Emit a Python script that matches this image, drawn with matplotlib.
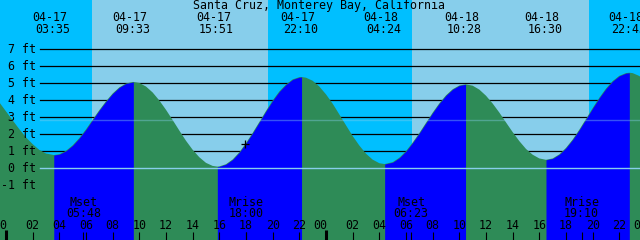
import numpy as np
import matplotlib.pyplot as plt

# Tide chart: Santa Cruz, Monterey Bay, 04-17 .. 04-18

title = "Santa Cruz, Monterey Bay, California"

# tide height (hours since 04-17 00:00, feet)
hours = [-0.5, 0, 0.5, 1, 1.5, 2, 2.5, 3, 3.583,
         4, 4.5, 5, 5.5, 6, 6.5, 7, 7.5, 8, 8.5, 9, 9.55,
         10, 10.5, 11, 11.5, 12, 12.5, 13, 13.5, 14, 14.5, 15, 15.5, 15.85,
         16, 16.5, 17, 17.5, 18, 18.5, 19, 19.5, 20, 20.5, 21, 21.5, 22, 22.167,
         22.5, 23, 23.5, 24, 24.5, 25, 25.5, 26, 26.5, 27, 27.5, 28, 28.4,
         29, 29.5, 30, 30.5, 31, 31.5, 32, 32.5, 33, 33.5, 34, 34.467,
         35, 35.5, 36, 36.5, 37, 37.5, 38, 38.5, 39, 39.5, 40, 40.5,
         41, 41.5, 42, 42.5, 43, 43.5, 44, 44.5, 45, 45.5, 46, 46.5, 46.75,
         47, 47.5, 48]
heights = [3.88, 3.35, 2.82, 2.30, 1.82, 1.42, 1.08, 0.87, 0.78,
           0.83, 1.03, 1.35, 1.78, 2.29, 2.86, 3.42, 3.94, 4.40, 4.76, 4.99, 5.08,
           5.02, 4.81, 4.46, 3.99, 3.44, 2.84, 2.22, 1.62, 1.09, 0.65, 0.32, 0.14, 0.10,
           0.11, 0.24, 0.52, 0.94, 1.48, 2.08, 2.72, 3.37, 3.99, 4.52, 4.93, 5.23, 5.36, 5.37,
           5.33, 5.15, 4.81, 4.35, 3.80, 3.17, 2.53, 1.90, 1.34, 0.86, 0.51, 0.30, 0.25,
           0.36, 0.62, 1.01, 1.51, 2.07, 2.67, 3.27, 3.82, 4.29, 4.65, 4.87, 4.94,
           4.86, 4.63, 4.27, 3.81, 3.28, 2.70, 2.13, 1.60, 1.14, 0.80, 0.58, 0.50,
           0.58, 0.82, 1.20, 1.69, 2.27, 2.90, 3.54, 4.15, 4.69, 5.13, 5.44, 5.60, 5.62,
           5.60, 5.43, 5.10]

# tide extremes (first one is a low, then they alternate)
tide_dates = ['04-17', '04-17', '04-17', '04-17', '04-18', '04-18', '04-18', '04-18']
tide_clock = ['03:35', '09:33', '15:51', '22:10', '04:24', '10:28', '16:30', '22:45']
tide_day = [0, 0, 0, 0, 1, 1, 1, 1]

# sun and moon
sunrise = ['06:27', '06:27']
sunset = ['19:39', '19:44']
moon_event = ['Mset', 'Mrise', 'Mset', 'Mrise']
moon_clock = ['05:48', '18:00', '06:23', '19:10']
moon_day = [0, 0, 1, 1]

now_hour, now_height = 17.93, 1.43
msl = 2.82
levels = [-1, 0, 1, 2, 3, 4, 5, 6, 7]

# pixel layout of the original picture
X0, PX_H = 6.0, 13.333     # x pixel of 04-17 00:00, pixels per hour
Y0, PX_FT = 168.3, 17.0    # y pixel of 0 ft, pixels per foot
W, H = 640, 240


def to_hours(clock, day):
    h, m = clock.split(':')
    return day * 24 + int(h) + int(m) / 60


def xh(px):
    return (px - X0) / PX_H


def yft(py):
    return (Y0 - py) / PX_FT


t = np.array(hours)
h = np.array(heights)
tide_t = [to_hours(c, d) for c, d in zip(tide_clock, tide_day)]

night = '#00BFFF'
day = '#87CEEB'
flood = '#0000FF'
ebb = '#2E8B57'
font = dict(family='DejaVu Sans Mono', fontsize=8.4, color='black')

fig = plt.figure(figsize=(W / 100, H / 100), dpi=100)
ax = fig.add_axes([0, 0, 1, 1])
ax.set_xlim(xh(0), xh(W))
ax.set_ylim(yft(H), yft(0))
ax.axis('off')

# sky
rise = [to_hours(c, d) for d, c in enumerate(sunrise)]
sset = [to_hours(c, d) for d, c in enumerate(sunset)]
ax.axvspan(xh(0), rise[0], color=night, lw=0, zorder=0)
for i in range(2):
    ax.axvspan(rise[i], sset[i], color=day, lw=0, zorder=0)
    end = rise[i + 1] if i + 1 < len(rise) else xh(W)
    ax.axvspan(sset[i], end, color=night, lw=0, zorder=0)

# foot lines behind the water
for lv in levels:
    if lv > 0:
        ax.axhline(lv, xmin=39.5 / W, color='black', lw=0.9, zorder=1)

# water: ebb everywhere, flood from each low to the next high
bottom = yft(H + 5)
ax.fill_between(t, h, bottom, color=ebb, lw=0, zorder=2)
for lo, hi in zip(tide_t[0::2], tide_t[1::2]):
    m = (t >= lo - 0.01) & (t <= hi + 0.01)
    ax.fill_between(t[m], h[m], bottom, color=flood, lw=0, zorder=2)

ax.axhline(0, xmin=39.5 / W, color=day, lw=1.0, zorder=3)
ax.axhline(msl, xmin=39.5 / W, color=day, alpha=0.4, lw=1.0, zorder=3)

# y labels
for lv in levels:
    ax.text(xh(36), lv, f'{lv} ft', ha='right', va='center', zorder=5, **font)

# title and tide extremes
ax.text(xh(319), yft(6), title, ha='center', va='center', zorder=5, **font)
for x, d, c in zip(tide_t, tide_dates, tide_clock):
    ax.text(x - 4 / PX_H, yft(17.5), d, ha='center', va='center', zorder=5, **font)
    ax.text(x - 1 / PX_H, yft(29.5), c, ha='center', va='center', zorder=5, **font)

# moon events
moon_t = [to_hours(c, d) for c, d in zip(moon_clock, moon_day)]
for x, ev, c in zip(moon_t, moon_event, moon_clock):
    ax.text(x, yft(206), ev, ha='center', va='baseline', zorder=5, **font)
    ax.text(x, yft(217), c, ha='center', va='baseline', zorder=5, **font)
    ax.vlines(x, yft(H), yft(232), color='black', lw=0.8, zorder=4)

# hour ticks along the bottom (midnight label sits left of its tick)
for hr in range(0, 50, 2):
    if hr % 24 == 0:
        ax.text(hr + 1 / PX_H, yft(225.5), f'{hr % 24:02d}', ha='right', va='center',
                zorder=5, **font)
        ax.vlines(hr, yft(H), yft(230), color='black', lw=2.2, zorder=4)
    else:
        ax.text(hr, yft(225.5), f'{hr % 24:02d}', ha='center', va='center', zorder=5, **font)
        ax.vlines(hr, yft(H), yft(232), color='black', lw=0.8, zorder=4)

ax.plot([now_hour], [now_height], marker='+', color='black', ms=6, mew=0.9, zorder=5)

fig.savefig('out.png', dpi=100)
